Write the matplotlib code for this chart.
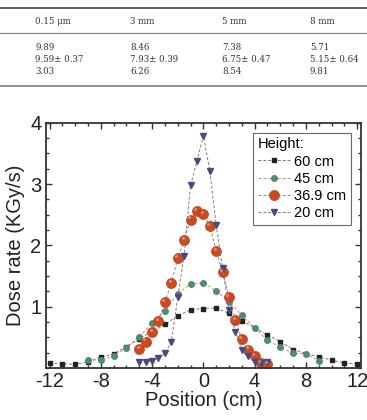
import matplotlib
matplotlib.use("Agg")
import matplotlib.pyplot as plt
from matplotlib.lines import Line2D
from matplotlib.ticker import MultipleLocator, FixedLocator

plt.rcParams["axes.unicode_minus"] = False

# table at top
col_heads = ["0.15 \u03bcm", "3 mm", "5 mm", "8 mm"]
row_1 = ["9.89", "8.46", "7.38", "5.71"]
row_2 = ["9.59\u00b1 0.37", "7.93\u00b1 0.39", "6.75\u00b1 0.47", "5.15\u00b1 0.64"]
row_3 = ["3.03", "6.26", "8.54", "9.81"]

# dose rate profiles
x_60 = [-12, -11, -10, -9, -8, -7, -6, -5, -3, -2, -1, 0, 1, 2, 3, 5, 6, 7, 9, 10, 11, 12]
y_60 = [0.08, 0.07, 0.06, 0.10, 0.18, 0.23, 0.35, 0.48, 0.71, 0.85, 0.95, 0.97, 0.98, 0.89,
        0.77, 0.54, 0.43, 0.30, 0.18, 0.13, 0.08, 0.07]

x_45 = [-9, -8, -7, -6, -5, -4, -3, -2, -1, 0, 1, 2, 3, 4, 5, 6, 7, 8, 9]
y_45 = [0.13, 0.13, 0.20, 0.32, 0.51, 0.73, 0.93, 1.21, 1.37, 1.39, 1.26, 1.08, 0.86, 0.66,
        0.45, 0.34, 0.24, 0.23, 0.12]

x_37 = [-5, -4.5, -4, -3.5, -3, -2.5, -2, -1.5, -1, -0.5, 0, 0.5, 1, 1.5, 2, 2.5, 3, 3.5, 4, 4.5, 5]
y_37 = [0.31, 0.43, 0.58, 0.77, 1.07, 1.38, 1.79, 2.08, 2.42, 2.56, 2.51, 2.32, 1.91, 1.57,
        1.16, 0.78, 0.47, 0.30, 0.19, 0.08, 0.07]

x_20 = [-5, -4.5, -4, -3.5, -3, -2.5, -2, -1.5, -1, -0.5, 0, 0.5, 1, 1.5, 2, 2.5, 3, 3.5, 4, 4.5, 5]
y_20 = [0.09, 0.09, 0.12, 0.16, 0.24, 0.42, 1.15, 1.83, 2.98, 3.37, 3.79, 3.22, 2.33, 1.63,
        0.95, 0.59, 0.30, 0.19, 0.10, 0.08, 0.09]

fig = plt.figure(figsize=(3.67, 4.2), dpi=100)

# --- table ---
serif = "DejaVu Serif"
col_x = [35, 130, 222, 310]
W, H = 367.0, 420.0
for py, lw, c in [(8, 1.3, "#555555"), (33, 0.9, "#888888"), (86, 1.3, "#888888")]:
    fig.add_artist(Line2D([0, 1], [1 - py / H, 1 - py / H], color=c, lw=lw, transform=fig.transFigure))
rows = [(22, col_heads), (47, row_1), (60, row_2), (72, row_3)]
for py, vals in rows:
    for cx, v in zip(col_x, vals):
        fig.text(cx / W, 1 - py / H, v, fontsize=6.2, family=serif, color="#333333",
                 va="center", ha="left")

# --- chart ---
ax = fig.add_axes([45.7 / W, 1 - 368 / H, (361 - 45.7) / W, (368 - 122.7) / H])
sans = "Liberation Sans"

ax.plot(x_60, y_60, ls=(0, (3, 2)), lw=0.7, color="#777777", marker="s", ms=3.3,
        mfc="#222222", mec="#222222", label="60 cm")
ax.plot(x_45, y_45, ls=(0, (3, 2)), lw=0.7, color="#e08080", marker="o", ms=4,
        mfc="#4e8c74", mec="#4e8c74", label="45 cm")
ax.plot(x_37, y_37, ls=(0, (3, 2)), lw=0.7, color="#8a8a8a", marker="o", ms=7.2,
        mfc="#cc4a22", mec="#b8401c", mew=0.5, label="36.9 cm")
ax.plot(x_20, y_20, ls=(0, (3, 2)), lw=0.7, color="#7a7a90", marker="v", ms=4.3,
        mfc="#4a4a80", mec="#4a4a80", label="20 cm")
# sphere highlights
ax.plot([v - 0.12 for v in x_37], [v + 0.035 for v in y_37], ls="none", marker="o", ms=2.2,
        mfc="#f0a080", mec="none", alpha=0.7)

ax.set_xlim(-12.3, 12.3)
ax.set_ylim(0, 4)
ax.xaxis.set_major_locator(FixedLocator([-12, -8, -4, 0, 4, 8, 12]))
ax.xaxis.set_minor_locator(MultipleLocator(1))
ax.yaxis.set_major_locator(FixedLocator([1, 2, 3, 4]))
ax.yaxis.set_minor_locator(MultipleLocator(0.25))
ax.tick_params(which="both", direction="in", top=True, right=True, width=1.0, color="#333333")
ax.tick_params(which="major", length=4, labelsize=14.5, pad=3)
ax.tick_params(which="minor", length=2.5)
for lab in ax.get_xticklabels() + ax.get_yticklabels():
    lab.set_family(sans)
    lab.set_color("#222222")
for sp in ax.spines.values():
    sp.set_linewidth(1.3)
    sp.set_color("#333333")

ax.set_xlabel("Position (cm)", fontsize=14.5, family=sans, color="#222222", labelpad=0)
ax.set_ylabel("Dose rate (KGy/s)", fontsize=14.5, family=sans, color="#222222", labelpad=4)

leg = ax.legend(title="Height:", loc="upper right", bbox_to_anchor=(0.967, 0.958),
                prop={"family": sans, "size": 10.5}, title_fontproperties={"family": sans, "size": 10.5},
                frameon=True, fancybox=False, edgecolor="#444444", borderpad=0.3,
                labelspacing=0.22, handlelength=2.2, handletextpad=0.3, borderaxespad=0.0)
leg._legend_box.align = "left"
leg.get_frame().set_linewidth(0.8)

fig.savefig("out.png", dpi=100)
